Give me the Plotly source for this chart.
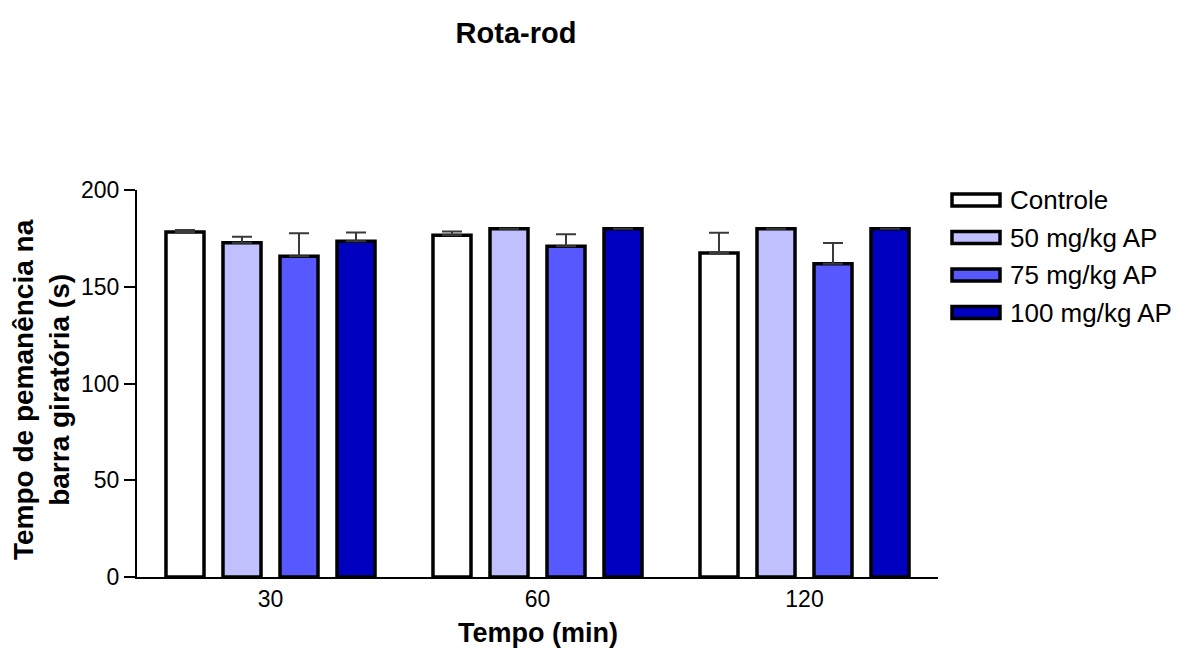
import plotly.graph_objects as go

categories = ["30", "60", "120"]
series_names = ["Controle", "50 mg/kg AP", "75 mg/kg AP", "100 mg/kg AP"]
series_colors = ["#FFFFFF", "#C0C0FF", "#5858FF", "#0000C0"]

controle = [178.3, 176.6, 167.4]
ap50 = [172.8, 180.0, 180.0]
ap75 = [165.7, 170.9, 161.9]
ap100 = [173.5, 180.0, 180.0]

err_controle = [1.0, 2.0, 10.5]
err_ap50 = [3.0, None, None]
err_ap75 = [12.0, 6.2, 10.7]
err_ap100 = [4.5, None, None]

values = [controle, ap50, ap75, ap100]
errors = [err_controle, err_ap50, err_ap75, err_ap100]

y_ticks = [0, 50, 100, 150, 200]

FONT = "Liberation Sans, Arial, sans-serif"

# page has an 8px body margin; work in screen pixels and convert
OFF = 8
W, H = 1183 - OFF, 648 - OFF
plot_left, plot_right, plot_top, plot_bottom = 137, 938, 190, 577  # screen px
ml = plot_left - OFF
mr = W - (plot_right - OFF)
mt = plot_top - OFF
mb = H - (plot_bottom - OFF)
pw = plot_right - plot_left
ph = plot_bottom - plot_top


def px_to_paper(x, y):
    return (x - plot_left) / pw, (plot_bottom - y) / ph


fig = go.Figure()
for name, color, vals, errs in zip(series_names, series_colors, values, errors):
    fig.add_trace(go.Bar(
        x=categories, y=vals, name=name,
        marker=dict(color=color, line=dict(color="#000000", width=3.5)),
        error_y=dict(type="data", symmetric=False, array=errs,
                     arrayminus=[0 if e is not None else None for e in errs],
                     color="#3a3a3a", thickness=2, width=10),
        showlegend=False,
    ))

# legend drawn with rectangular swatches like the original
leg_x0, leg_x1 = 952, 1000
leg_y_start, leg_step = 200, 37.5
for i, (name, color) in enumerate(zip(series_names, series_colors)):
    yc = leg_y_start + i * leg_step
    xa, ya = px_to_paper(leg_x0, yc - 6)
    xb, yb = px_to_paper(leg_x1, yc + 6)
    fig.add_shape(type="rect", xref="paper", yref="paper",
                  x0=xa, x1=xb, y0=yb, y1=ya,
                  fillcolor=color, line=dict(color="#000000", width=3.5))
    tx, ty = px_to_paper(1008, yc)
    fig.add_annotation(xref="paper", yref="paper", x=tx, y=ty,
                       text=name, showarrow=False, xanchor="left", yanchor="middle",
                       font=dict(family=FONT, size=26, color="#000000"))

# y axis title
yt_x, yt_y = px_to_paper(41, 390)
fig.add_annotation(xref="paper", yref="paper", x=yt_x, y=yt_y,
                   text="<b>Tempo de pemanência na<br>barra giratória (s)</b>",
                   textangle=-90, showarrow=False, xanchor="center", yanchor="middle",
                   font=dict(family=FONT, size=28, color="#000000"))

# x axis title
xt_x, xt_y = px_to_paper(538, 633)
fig.add_annotation(xref="paper", yref="paper", x=xt_x, y=xt_y,
                   text="<b>Tempo (min)</b>", showarrow=False,
                   xanchor="center", yanchor="middle",
                   font=dict(family=FONT, size=27, color="#000000"))

fig.update_layout(
    width=W, height=H,
    margin=dict(l=ml, r=mr, t=mt, b=mb, pad=0),
    paper_bgcolor="#FFFFFF", plot_bgcolor="#FFFFFF",
    barmode="group", bargap=0.146, bargroupgap=0.333,
    title=dict(text="<b>Rota-rod</b>", x=(516 - OFF) / W, xanchor="center",
               y=1 - (33 - OFF) / H, yanchor="middle",
               font=dict(family=FONT, size=29, color="#000000")),
    font=dict(family=FONT, color="#000000"),
    xaxis=dict(
        range=[-0.5, 2.5], showline=True, linecolor="#000000", linewidth=2,
        ticks="", showgrid=False, zeroline=False,
        tickfont=dict(family=FONT, size=23, color="#000000"),
    ),
    yaxis=dict(
        range=[0, 200], tickvals=y_ticks, showline=True, linecolor="#000000",
        linewidth=2, ticks="outside", ticklen=11, tickwidth=1.5, tickcolor="#000000",
        showgrid=False, zeroline=False,
        tickfont=dict(family=FONT, size=23, color="#000000"),
    ),
)

fig.write_html("out.html")
